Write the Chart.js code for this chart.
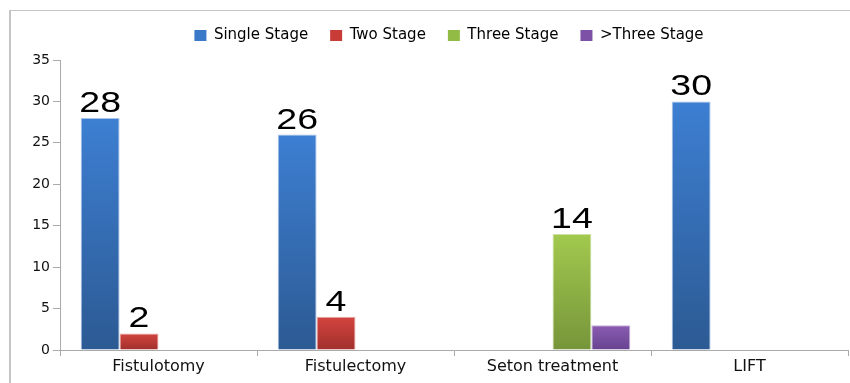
<!DOCTYPE html>
<html>
<head>
<meta charset="utf-8">
<script src="https://cdn.jsdelivr.net/npm/chart.js@4"></script>
<style>
  html, body { margin: 0; padding: 0; background: #fff; }
  #wrap { position: relative; width: 850px; height: 383px; overflow: hidden; }
  #frame {
    position: absolute; left: 9px; top: 10px; width: 900px; height: 400px;
    border-left: 2px solid #c4c4c4; border-top: 1px solid #c4c4c4;
  }
  canvas { position: absolute; left: 0; top: 0; }
</style>
</head>
<body>
<div id="wrap">
  <div id="frame"></div>
  <canvas id="stageChart" width="850" height="383"></canvas>
</div>
<script>
// procedures on the x axis
const procedures   = ['Fistulotomy', 'Fistulectomy', 'Seton treatment', 'LIFT'];
// number of patients per healing stage
const singleStage  = [28, 26, 0, 30];
const twoStage     = [2, 4, 0, 0];
const threeStage   = [0, 0, 14, 0];
const moreStage    = [0, 0, 3, 0];
const yTicks       = [0, 5, 10, 15, 20, 25, 30, 35];

const FONT = "'DejaVu Sans', sans-serif";

// vertical gradient per bar, light at the top and dark at the base
function barFill(top, bottom) {
  return (ctx) => {
    const { chart, parsed } = ctx;
    const y = chart.scales.y;
    if (!y || !parsed) return top;
    const y0 = y.getPixelForValue(0);
    const y1 = y.getPixelForValue(parsed.y);
    if (y0 === y1) return top;
    const g = chart.ctx.createLinearGradient(0, y1, 0, y0);
    g.addColorStop(0, top);
    g.addColorStop(1, bottom);
    return g;
  };
}

function series(label, data, top, bottom, edge, showValue) {
  return {
    label,
    data,
    showValue,
    backgroundColor: barFill(top, bottom),
    borderColor:     edge,
    borderWidth:     (ctx) => (ctx.raw ? 1 : 0),
    borderSkipped:   'bottom',
  };
}

// big value numbers above the bars
const valueLabels = {
  id: 'valueLabels',
  afterDatasetsDraw(chart) {
    const c = chart.ctx;
    c.save();
    c.font = "30px 'Liberation Sans', Arial, sans-serif";
    c.fillStyle = '#000';
    c.textAlign = 'center';
    c.textBaseline = 'alphabetic';
    chart.data.datasets.forEach((ds, i) => {
      if (!ds.showValue) return;
      chart.getDatasetMeta(i).data.forEach((bar, j) => {
        const v = ds.data[j];
        if (!v) return;
        c.save();
        c.translate(bar.x, bar.y - 6);
        c.scale(1.25, 1);
        c.fillText(String(v), 0, 0);
        c.restore();
      });
    });
    c.restore();
  },
};

// extra room under the legend, and legend nudged right of the plot centre
const legendTweak = {
  id: 'legendTweak',
  beforeInit(chart) {
    const legend = chart.legend;
    const fit  = legend.fit;
    const draw = legend.draw;
    legend.fit = function () {
      fit.call(this);
      this.height += 7;
    };
    legend.draw = function () {
      this.ctx.save();
      this.ctx.translate(20, 0);
      draw.call(this);
      this.ctx.restore();
    };
  },
};

new Chart(document.getElementById('stageChart'), {
  type: 'bar',
  data: {
    labels: procedures,
    datasets: [
      series('Single Stage', singleStage, '#3d7fd2', '#2c5a93', '#a9c4ea', true),
      series('Two Stage',    twoStage,    '#d4443f', '#a0302c', '#e8a8a6', true),
      series('Three Stage',  threeStage,  '#a2c94e', '#76953a', '#cfe3a8', true),
      series('>Three Stage', moreStage,   '#8b5cb2', '#674390', '#c4aedb', false),
    ],
  },
  options: {
    responsive:          false,
    animation:           false,
    categoryPercentage:  0.79,
    barPercentage:       1.0,
    layout: { padding: { left: 10, right: 2, top: 6, bottom: 0 } },
    plugins: {
      legend: {
        position: 'top',
        align:    'center',
        labels: {
          boxWidth:  12,
          boxHeight: 11,
          padding:   22,
          color:     '#111',
          font:      { family: FONT, size: 15 },
          generateLabels(chart) {
            const fills = ['#3a78c8', '#c83c38', '#92bb45', '#7d52a6'];
            return chart.data.datasets.map((ds, i) => ({
              text:        ds.label,
              fillStyle:   fills[i],
              strokeStyle: fills[i],
              lineWidth:   0,
              datasetIndex: i,
            }));
          },
        },
      },
      tooltip: { enabled: false },
    },
    scales: {
      x: {
        offset: true,
        grid: {
          display:         true,
          offset:          true,
          drawOnChartArea: false,
          drawTicks:       true,
          tickLength:      6,
          color:           '#aaa',
        },
        border: { color: '#aaa', width: 1 },
        ticks: { color: '#111', font: { family: FONT, size: 16 }, padding: 1 },
        afterFit(scale) { scale.height = 33; },
      },
      y: {
        min: 0,
        max: 35,
        afterBuildTicks(scale) { scale.ticks = yTicks.map((v) => ({ value: v })); },
        grid: {
          drawOnChartArea: false,
          drawTicks:       true,
          tickLength:      7,
          color:           '#aaa',
        },
        border: { color: '#aaa', width: 1 },
        ticks: { color: '#111', font: { family: FONT, size: 14 }, padding: 3 },
        afterFit(scale) { scale.width = 50; },
      },
    },
  },
  plugins: [valueLabels, legendTweak],
});
</script>
</body>
</html>
